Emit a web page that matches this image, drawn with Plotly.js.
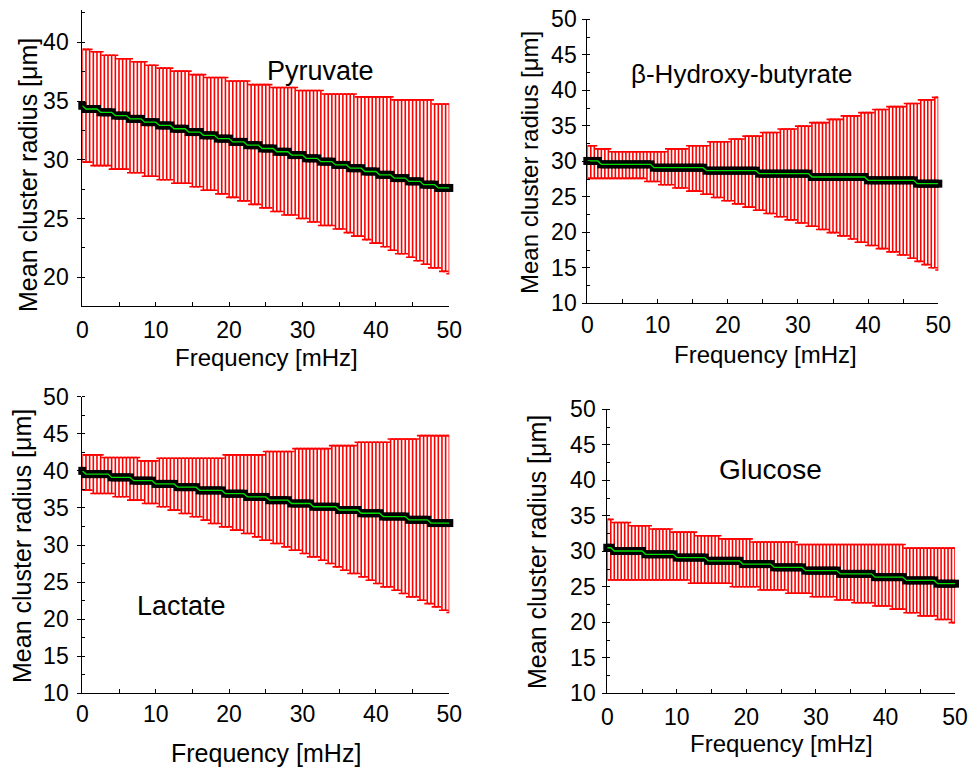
<!DOCTYPE html>
<html><head><meta charset="utf-8">
<script src="https://cdn.plot.ly/plotly-3.0.1.min.js"></script>
<style>html,body{margin:0;padding:0;background:#fff}</style>
</head><body>
<div id="chart" style="width:970px;height:768px"></div>
<script>
const freq = [0,0.5,1,1.5,2,2.5,3,3.5,4,4.5,
5,5.5,6,6.5,7,7.5,8,8.5,9,9.5,
10,10.5,11,11.5,12,12.5,13,13.5,14,14.5,
15,15.5,16,16.5,17,17.5,18,18.5,19,19.5,
20,20.5,21,21.5,22,22.5,23,23.5,24,24.5,
25,25.5,26,26.5,27,27.5,28,28.5,29,29.5,
30,30.5,31,31.5,32,32.5,33,33.5,34,34.5,
35,35.5,36,36.5,37,37.5,38,38.5,39,39.5,
40,40.5,41,41.5,42,42.5,43,43.5,44,44.5,
45,45.5,46,46.5,47,47.5,48,48.5,49,49.5,
50];

const pyrMean = [34.6,34.32,34.32,34.32,34.32,34.04,34.04,34.04,34.04,33.76,
33.76,33.76,33.76,33.48,33.48,33.48,33.48,33.2,33.2,33.2,
33.2,32.92,32.92,32.92,32.92,32.64,32.64,32.64,32.64,32.36,
32.36,32.36,32.36,32.08,32.08,32.08,32.08,31.8,31.8,31.8,
31.8,31.52,31.52,31.52,31.52,31.24,31.24,31.24,31.24,30.96,
30.96,30.96,30.96,30.68,30.68,30.68,30.68,30.4,30.4,30.4,
30.4,30.12,30.12,30.12,30.12,29.84,29.84,29.84,29.84,29.56,
29.56,29.56,29.56,29.28,29.28,29.28,29.28,29.0,29.0,29.0,
29.0,28.72,28.72,28.72,28.72,28.44,28.44,28.44,28.44,28.16,
28.16,28.16,28.16,27.88,27.88,27.88,27.88,27.6,27.6,27.6,
27.6];
const pyrUpper = [39.4,39.4,39.4,39.2,39.2,39.2,38.9,38.9,38.9,38.9,
38.6,38.6,38.6,38.6,38.35,38.35,38.35,38.35,38.05,38.05,
38.05,37.8,37.8,37.8,37.8,37.55,37.55,37.55,37.55,37.55,
37.25,37.25,37.25,37.25,37.0,37.0,37.0,37.0,37.0,37.0,
36.7,36.7,36.7,36.7,36.7,36.7,36.4,36.4,36.4,36.4,
36.4,36.4,36.15,36.15,36.15,36.15,36.15,36.15,36.15,35.9,
35.9,35.9,35.9,35.9,35.9,35.9,35.6,35.6,35.6,35.6,
35.6,35.6,35.6,35.6,35.6,35.35,35.35,35.35,35.35,35.35,
35.35,35.35,35.35,35.35,35.35,35.1,35.1,35.1,35.1,35.1,
35.1,35.1,35.1,35.1,35.1,35.1,34.75,34.75,34.75,34.75,
34.75];
const pyrLower = [29.8,29.8,29.8,29.5,29.5,29.5,29.5,29.5,29.2,29.2,
29.2,29.2,29.2,28.9,28.9,28.9,28.9,28.6,28.6,28.6,
28.6,28.3,28.3,28.3,28.3,28.0,28.0,28.0,28.0,28.0,
27.7,27.7,27.7,27.4,27.4,27.4,27.4,27.1,27.1,27.1,
26.8,26.8,26.8,26.5,26.5,26.5,26.2,26.2,26.2,25.9,
25.9,25.9,25.6,25.6,25.6,25.3,25.3,25.3,25.3,25.0,
25.0,25.0,24.7,24.7,24.7,24.4,24.4,24.4,24.4,24.1,
24.1,24.1,23.8,23.8,23.5,23.5,23.5,23.2,23.2,22.9,
22.9,22.9,22.6,22.6,22.3,22.3,22.0,22.0,22.0,21.7,
21.7,21.4,21.4,21.1,21.1,20.8,20.8,20.8,20.5,20.5,
20.3];

const hbMean = [30.05,30.05,30.05,30.05,29.57,29.57,29.57,29.57,29.57,29.57,
29.57,29.57,29.57,29.57,29.57,29.57,29.57,29.57,29.57,29.1,
29.1,29.1,29.1,29.1,29.1,29.1,29.1,29.1,29.1,29.1,
29.1,29.1,29.1,29.1,28.68,28.68,28.68,28.68,28.68,28.68,
28.68,28.68,28.68,28.68,28.68,28.68,28.68,28.68,28.68,28.26,
28.26,28.26,28.26,28.26,28.26,28.26,28.26,28.26,28.26,28.26,
28.26,28.26,28.26,28.26,27.79,27.79,27.79,27.79,27.79,27.79,
27.79,27.79,27.79,27.79,27.79,27.79,27.79,27.79,27.79,27.79,
27.32,27.32,27.32,27.32,27.32,27.32,27.32,27.32,27.32,27.32,
27.32,27.32,27.32,27.32,26.85,26.85,26.85,26.85,26.85,26.85,
26.85];
const hbUpper = [32.2,32.2,32.2,31.75,31.75,31.75,31.75,31.35,31.35,31.35,
31.35,31.35,31.35,31.35,31.35,31.35,31.35,31.35,31.35,31.35,
31.35,31.35,31.35,31.75,31.75,31.75,31.75,31.75,31.75,32.2,
32.2,32.2,32.2,32.2,32.2,32.75,32.75,32.75,32.75,32.75,
32.75,33.15,33.15,33.15,33.15,33.55,33.55,33.55,33.55,33.55,
34.05,34.05,34.05,34.05,34.05,34.55,34.55,34.55,34.55,34.55,
34.95,34.95,34.95,34.95,35.45,35.45,35.45,35.45,35.45,35.9,
35.9,35.9,35.9,36.4,36.4,36.4,36.4,36.4,36.85,36.85,
36.85,36.85,37.3,37.3,37.3,37.3,37.7,37.7,37.7,37.7,
37.7,38.15,38.15,38.15,38.15,38.65,38.65,38.65,38.65,39.0,
39.0];
const hbLower = [27.6,27.6,27.6,27.6,27.6,27.6,27.6,27.6,27.6,27.6,
27.6,27.6,27.6,27.6,27.6,27.6,27.6,27.15,27.15,27.15,
27.15,26.7,26.7,26.7,26.7,26.25,26.25,26.25,26.25,25.8,
25.8,25.8,25.8,25.35,25.35,25.35,24.9,24.9,24.9,24.45,
24.45,24.45,24.0,24.0,24.0,23.55,23.55,23.55,23.1,23.1,
23.1,22.65,22.65,22.65,22.2,22.2,22.2,21.75,21.75,21.75,
21.3,21.3,21.3,20.85,20.85,20.85,20.4,20.4,20.4,19.95,
19.95,19.95,19.5,19.5,19.5,19.05,19.05,18.6,18.6,18.6,
18.15,18.15,18.15,17.7,17.7,17.7,17.25,17.25,17.25,16.8,
16.8,16.8,16.35,16.35,15.9,15.9,15.45,15.45,15.0,15.0,
14.7];

const lacMean = [40.0,39.56,39.56,39.56,39.56,39.56,39.56,39.56,39.12,39.12,
39.12,39.12,39.12,39.12,38.68,38.68,38.68,38.68,38.68,38.68,
38.24,38.24,38.24,38.24,38.24,38.24,37.8,37.8,37.8,37.8,
37.8,37.8,37.36,37.36,37.36,37.36,37.36,37.36,37.36,36.92,
36.92,36.92,36.92,36.92,36.92,36.48,36.48,36.48,36.48,36.48,
36.48,36.04,36.04,36.04,36.04,36.04,36.04,35.6,35.6,35.6,
35.6,35.6,35.6,35.16,35.16,35.16,35.16,35.16,35.16,35.16,
34.72,34.72,34.72,34.72,34.72,34.72,34.28,34.28,34.28,34.28,
34.28,34.28,33.84,33.84,33.84,33.84,33.84,33.84,33.84,33.4,
33.4,33.4,33.4,33.4,33.4,32.96,32.96,32.96,32.96,32.96,
32.96];
const lacUpper = [42.15,42.15,42.15,42.15,42.15,42.15,41.8,41.8,41.8,41.8,
41.8,41.8,41.8,41.8,41.8,41.8,41.35,41.35,41.35,41.35,
41.35,41.7,41.7,41.7,41.7,41.7,41.7,41.7,41.7,41.7,
41.7,41.7,41.7,41.7,41.7,41.7,41.7,41.7,41.7,42.15,
42.15,42.15,42.15,42.15,42.15,42.15,42.15,42.15,42.15,42.15,
42.6,42.6,42.6,42.6,42.6,42.6,42.6,42.6,43.0,43.0,
43.0,43.0,43.0,43.0,43.0,43.0,43.0,43.0,43.4,43.4,
43.4,43.4,43.4,43.4,43.4,43.85,43.85,43.85,43.85,43.85,
43.85,43.85,43.85,43.85,44.3,44.3,44.3,44.3,44.3,44.3,
44.3,44.3,44.75,44.75,44.75,44.75,44.75,44.75,44.75,44.75,
44.75];
const lacLower = [37.4,37.4,37.4,36.95,36.95,36.95,36.95,36.95,36.95,36.5,
36.5,36.5,36.5,36.05,36.05,36.05,36.05,35.6,35.6,35.6,
35.6,35.15,35.15,35.15,34.7,34.7,34.7,34.25,34.25,34.25,
33.8,33.8,33.8,33.35,33.35,32.9,32.9,32.9,32.45,32.45,
32.45,32.0,32.0,32.0,31.55,31.55,31.55,31.1,31.1,30.65,
30.65,30.65,30.2,30.2,30.2,29.75,29.75,29.3,29.3,29.3,
28.85,28.85,28.4,28.4,28.4,27.95,27.95,27.5,27.5,27.05,
27.05,26.6,26.6,26.15,26.15,26.15,25.7,25.7,25.25,25.25,
24.8,24.8,24.35,24.35,24.35,23.9,23.9,23.45,23.45,23.0,
23.0,23.0,22.55,22.55,22.1,22.1,21.65,21.65,21.2,21.2,
20.9];

const gluMean = [30.5,30.5,30.04,30.04,30.04,30.04,30.04,30.04,30.04,30.04,
30.04,29.58,29.58,29.58,29.58,29.58,29.58,29.58,29.58,29.58,
29.12,29.12,29.12,29.12,29.12,29.12,29.12,29.12,29.12,28.66,
28.66,28.66,28.66,28.66,28.66,28.66,28.66,28.66,28.66,28.2,
28.2,28.2,28.2,28.2,28.2,28.2,28.2,28.2,27.74,27.74,
27.74,27.74,27.74,27.74,27.74,27.74,27.74,27.28,27.28,27.28,
27.28,27.28,27.28,27.28,27.28,27.28,27.28,26.82,26.82,26.82,
26.82,26.82,26.82,26.82,26.82,26.82,26.82,26.36,26.36,26.36,
26.36,26.36,26.36,26.36,26.36,26.36,25.9,25.9,25.9,25.9,
25.9,25.9,25.9,25.9,25.9,25.44,25.44,25.44,25.44,25.44,
25.44];
const gluUpper = [34.5,34.5,34.05,34.05,34.05,34.05,34.05,33.6,33.6,33.6,
33.6,33.6,33.6,33.15,33.15,33.15,33.15,33.15,33.15,32.7,
32.7,32.7,32.7,32.7,32.7,32.7,32.2,32.2,32.2,32.2,
32.2,32.2,32.2,31.75,31.75,31.75,31.75,31.75,31.75,31.75,
31.75,31.75,31.3,31.3,31.3,31.3,31.3,31.3,31.3,31.3,
31.3,31.3,31.3,31.3,31.3,30.95,30.95,30.95,30.95,30.95,
30.95,30.95,30.95,30.95,30.95,30.95,30.95,30.95,30.95,30.95,
30.95,30.95,30.95,30.95,30.95,30.95,30.95,30.95,30.95,30.95,
30.95,30.95,30.95,30.95,30.95,30.95,30.45,30.45,30.45,30.45,
30.45,30.45,30.45,30.45,30.45,30.45,30.45,30.45,30.45,30.45,
30.45];
const gluLower = [25.95,25.95,25.95,25.95,25.95,25.95,25.95,25.95,25.95,25.95,
25.95,25.95,25.95,25.95,25.95,25.95,25.95,25.95,25.95,25.95,
25.95,25.95,25.95,25.95,25.5,25.5,25.5,25.5,25.5,25.5,
25.5,25.5,25.5,25.5,25.5,25.5,25.0,25.0,25.0,25.0,
25.0,25.0,25.0,25.0,24.55,24.55,24.55,24.55,24.55,24.55,
24.55,24.55,24.1,24.1,24.1,24.1,24.1,24.1,24.1,23.6,
23.6,23.6,23.6,23.6,23.6,23.6,23.15,23.15,23.15,23.15,
23.15,22.75,22.75,22.75,22.75,22.75,22.75,22.3,22.3,22.3,
22.3,22.3,21.85,21.85,21.85,21.85,21.35,21.35,21.35,21.35,
20.9,20.9,20.9,20.9,20.9,20.4,20.4,20.4,20.4,19.95,
19.95];

const panelLabels = ['Pyruvate', 'β-Hydroxy-butyrate', 'Lactate', 'Glucose'];
const xTitle = 'Frequency [mHz]';
const yTitle = 'Mean cluster radius [μm]';

const FONT = 'Liberation Sans, Arial, Helvetica, sans-serif';
const W = 970, H = 768;
const px = v => v / W;
const py = v => 1 - v / H;

function panelTraces(mean, upper, lower, xa, ya) {
  const up = upper.map((u, i) => u - mean[i]);
  const dn = lower.map((l, i) => mean[i] - l);
  return [
    {x: freq, y: mean, xaxis: xa, yaxis: ya, type: 'scatter', mode: 'markers',
     marker: {symbol: 'square', size: 8, color: '#000000', line: {width: 0}},
     error_y: {type: 'data', symmetric: false, array: up, arrayminus: dn,
               color: '#ff0000', thickness: 1.6, width: 3},
     cliponaxis: false, showlegend: false, hoverinfo: 'skip'},
    {x: freq, y: mean, xaxis: xa, yaxis: ya, type: 'scatter', mode: 'lines',
     line: {color: '#00e000', width: 1.3}, cliponaxis: false,
     showlegend: false, hoverinfo: 'skip'}
  ];
}

const data = [].concat(
  panelTraces(pyrMean, pyrUpper, pyrLower, 'x', 'y'),
  panelTraces(hbMean, hbUpper, hbLower, 'x2', 'y2'),
  panelTraces(lacMean, lacUpper, lacLower, 'x3', 'y3'),
  panelTraces(gluMean, gluUpper, gluLower, 'x4', 'y4')
);

function xax(d0, d1, anchor, standoff) {
  return {domain: [px(d0), px(d1)], anchor: anchor, range: [0, 50],
    tick0: 0, dtick: 10, ticks: 'inside', ticklen: 4, tickwidth: 1, tickcolor: '#000',
    minor: {dtick: 5, ticks: 'inside', ticklen: 4, tickwidth: 1, tickcolor: '#000'},
    showline: true, linecolor: '#000', linewidth: 1, showgrid: false, zeroline: false,
    tickfont: {family: FONT, size: 23, color: '#000'}, ticklabelstandoff: standoff,
    fixedrange: true};
}
function yax(top, bottom, anchor, range, standoff) {
  return {domain: [py(bottom), py(top)], anchor: anchor, range: range,
    tick0: 0, dtick: 5, ticks: 'outside', ticklen: 4, tickwidth: 1, tickcolor: '#000',
    minor: {dtick: 2.5, ticks: 'inside', ticklen: 3, tickwidth: 1, tickcolor: '#000'},
    showline: true, linecolor: '#000', linewidth: 1, showgrid: false, zeroline: false,
    tickfont: {family: FONT, size: 23, color: '#000'}, ticklabelstandoff: standoff,
    fixedrange: true};
}

function ann(text, x, y, size, angle) {
  return {text: text, xref: 'paper', yref: 'paper', x: px(x), y: py(y),
    xanchor: 'center', yanchor: 'middle', showarrow: false, textangle: angle || 0,
    font: {family: FONT, size: size, color: '#000'}};
}

const layout = {
  width: W, height: H, margin: {l: 0, r: 0, t: 0, b: 0},
  paper_bgcolor: '#fff', plot_bgcolor: '#fff', showlegend: false,
  xaxis: xax(82.3, 449.3, 'y', 3),
  yaxis: yax(10, 306, 'x', [17.55, 42.75], 4),
  xaxis2: xax(587.3, 938.3, 'y2', 1),
  yaxis2: yax(19.3, 303.3, 'x2', [10, 50], 1),
  xaxis3: xax(82.3, 449.3, 'y3', 0),
  yaxis3: yax(396.7, 693.3, 'x3', [10, 50], 4),
  xaxis4: xax(607.3, 955, 'y4', 3),
  yaxis4: yax(409.3, 693.3, 'x4', [10, 50], 2),
  annotations: [
    ann(panelLabels[0], 320, 71, 27),
    ann(panelLabels[1], 742, 74, 26),
    ann(panelLabels[2], 181, 606, 27),
    ann(panelLabels[3], 770, 469, 28),
    ann(xTitle, 266, 357, 24),
    ann(xTitle, 765, 355, 24),
    ann(xTitle, 266, 753, 25),
    ann(xTitle, 781, 743, 24),
    ann(yTitle, 28, 175, 25, -90),
    ann(yTitle, 529, 163, 24, -90),
    ann(yTitle, 22, 546, 25, -90),
    ann(yTitle, 537, 552, 25, -90)
  ]
};

Plotly.newPlot('chart', data, layout, {staticPlot: true, displayModeBar: false});
</script>
</body></html>
